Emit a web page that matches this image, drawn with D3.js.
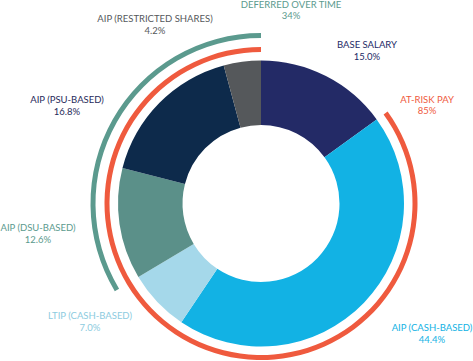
<!DOCTYPE html>
<html lang="en">
<head>
<meta charset="utf-8">
<script src="https://d3js.org/d3.v7.min.js"></script>
<style>
  body { margin: 0; background: #fff; }
  text { font-family: Lato, "Open Sans", Arial, sans-serif; font-size: 9.5px; }
</style>
</head>
<body>
<script>
// slices, clockwise from the top
var labels = ["BASE SALARY", "AIP (CASH-BASED)", "LTIP (CASH-BASED)", "AIP (DSU-BASED)", "AIP (PSU-BASED)", "AIP (RESTRICTED SHARES)"];
var values = [15.0, 44.4, 7.0, 12.6, 16.8, 4.2];
var colors = ["#232a66", "#12b2e4", "#a5d8ea", "#5b9089", "#0d2a4b", "#55585b"];
var textColors = ["#232a66", "#12b2e4", "#8ccbe0", "#5b9a8e", "#1f2a5a", "#55585b"];

// label positions (centre x, baseline y of first line)
var labelX = [367, 432, 90, 38, 67, 155];
var labelY = [48, 331, 319, 231, 103, 22];

// outer bracket arcs: which slices they span
var groups = ["AT-RISK PAY", "DEFERRED OVER TIME"];
var groupValues = ["85%", "34%"];
var groupFrom = [1, 3];   // first slice index
var groupColors = ["#ef5a3e", "#5b9a8e"];
var groupLabelX = [427, 291];
var groupLabelY = [103, 7.5];

var W = 473, H = 361;
var cx = 261, cy = 203.5;
var rOuter = 143, rInner = 78.5;

var svg = d3.select("body").append("svg")
  .attr("width", W).attr("height", H);

var g = svg.append("g").attr("transform", "translate(" + cx + "," + cy + ")");

var pie = d3.pie().sort(null).value(function (d) { return d; });
var arcs = pie(values);
var arc = d3.arc().innerRadius(rInner).outerRadius(rOuter);

g.selectAll("path.slice")
  .data(arcs)
  .enter()
  .append("path")
  .attr("class", "slice")
  .attr("d", arc)
  .attr("fill", function (d, i) { return colors[i]; });

// brackets
var ringR = [[151.5, 156.5], [165.5, 170.5]];
groups.forEach(function (name, k) {
  var start = arcs[groupFrom[k]].startAngle;
  var end = arcs[arcs.length - 1].endAngle;
  var a = d3.arc()
    .innerRadius(ringR[k][0]).outerRadius(ringR[k][1])
    .startAngle(start).endAngle(end);
  g.append("path").attr("d", a()).attr("fill", groupColors[k]);
});

// slice labels
labels.forEach(function (name, i) {
  var t = svg.append("text")
    .attr("text-anchor", "middle")
    .attr("fill", textColors[i]);
  t.append("tspan").attr("x", labelX[i]).attr("y", labelY[i]).text(name);
  t.append("tspan").attr("x", labelX[i]).attr("y", labelY[i] + 12).text(values[i].toFixed(1) + "%");
});

groups.forEach(function (name, k) {
  var t = svg.append("text")
    .attr("text-anchor", "middle")
    .attr("fill", groupColors[k]);
  t.append("tspan").attr("x", groupLabelX[k]).attr("y", groupLabelY[k]).text(name);
  t.append("tspan").attr("x", groupLabelX[k]).attr("y", groupLabelY[k] + 11).text(groupValues[k]);
});
</script>
</body>
</html>
